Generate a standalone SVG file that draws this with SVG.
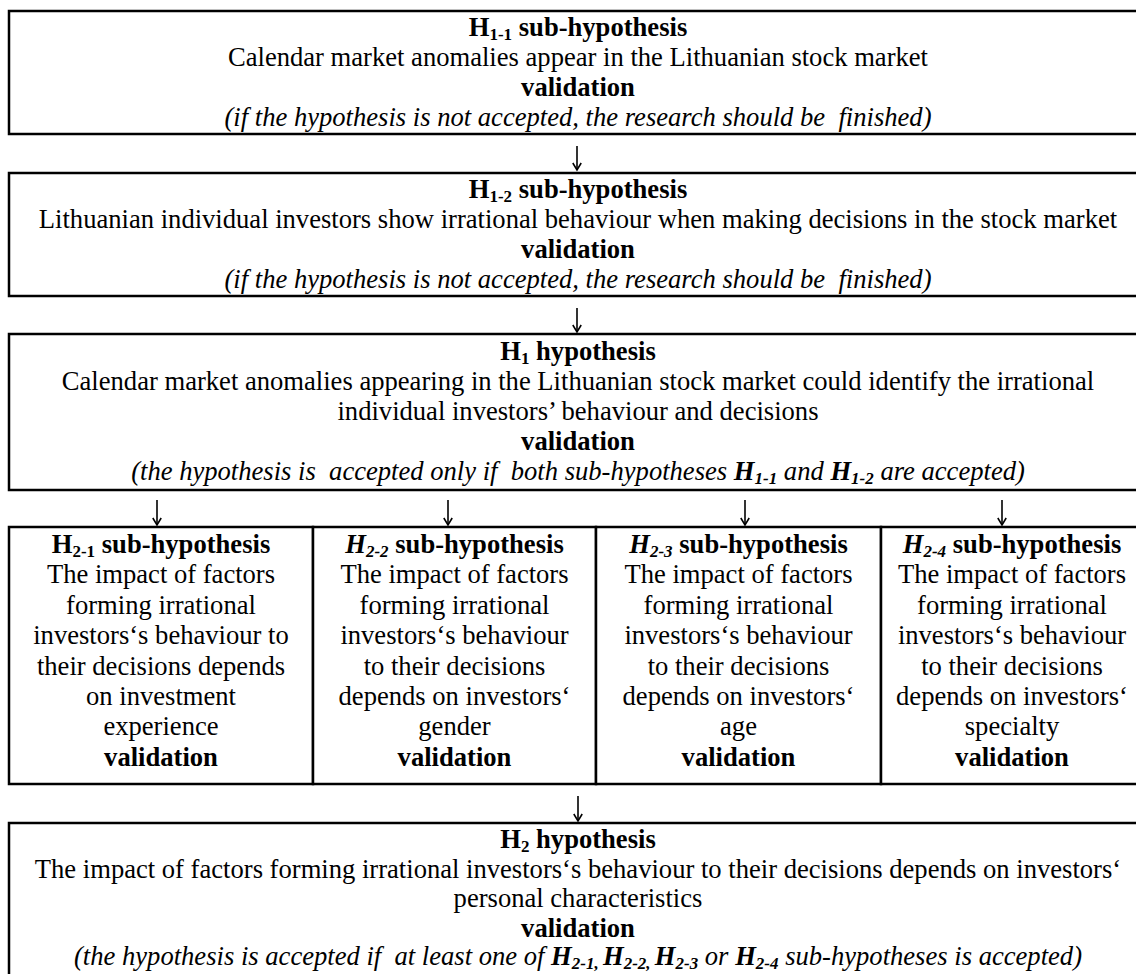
<svg xmlns="http://www.w3.org/2000/svg" width="1136" height="974" viewBox="0 0 1136 974">
<style>
.t{font-family:"Liberation Serif","Times New Roman","DejaVu Serif",serif;font-size:26.6px;text-anchor:middle;fill:#000}
.b{font-weight:bold}
.i{font-style:italic}
.s{font-size:17px}
.box{fill:#fff;stroke:#000;stroke-width:2.5}
.con{fill:none;stroke:#000;stroke-width:1.6}
</style>
<defs>
<marker id="ah" markerUnits="userSpaceOnUse" markerWidth="14" markerHeight="14" refX="0" refY="0" orient="auto" overflow="visible">
<path d="M-7,-4.2 L0,0 L-7,4.2" fill="none" stroke="#000" stroke-width="1.6"/>
</marker>
</defs>
<rect width="1136" height="974" fill="#fff"/>

<g id="box-h1-1">
<rect class="box" x="9" y="11" width="1134" height="123"/>
<text class="t b" x="578" y="36">H<tspan class="s" dy="4">1-1</tspan><tspan dy="-4"> sub-hypothesis</tspan></text>
<text class="t" x="578" y="66">Calendar market anomalies appear in the Lithuanian stock market</text>
<text class="t b" x="578" y="96">validation</text>
<text class="t i" x="578" y="126" xml:space="preserve">(if the hypothesis is not accepted, the research should be  finished)</text>
</g>

<g id="box-h1-2">
<rect class="box" x="9" y="173" width="1134" height="123"/>
<text class="t b" x="578" y="198">H<tspan class="s" dy="4">1-2</tspan><tspan dy="-4"> sub-hypothesis</tspan></text>
<text class="t" x="578" y="228">Lithuanian individual investors show irrational behaviour when making decisions in the stock market</text>
<text class="t b" x="578" y="258">validation</text>
<text class="t i" x="578" y="288" xml:space="preserve">(if the hypothesis is not accepted, the research should be  finished)</text>
</g>

<g id="box-h1">
<rect class="box" x="9" y="334" width="1134" height="156"/>
<text class="t b" x="578" y="360">H<tspan class="s" dy="4">1</tspan><tspan dy="-4"> hypothesis</tspan></text>
<text class="t" x="578" y="390">Calendar market anomalies appearing in the Lithuanian stock market could identify the irrational</text>
<text class="t" x="578" y="420">individual investors’ behaviour and decisions</text>
<text class="t b" x="578" y="450">validation</text>
<text class="t i" x="578" y="480" xml:space="preserve">(the hypothesis is  accepted only if  both sub-hypotheses <tspan class="b">H</tspan><tspan class="b s" dy="4">1-1</tspan><tspan dy="-4"> and </tspan><tspan class="b">H</tspan><tspan class="b s" dy="4">1-2</tspan><tspan dy="-4"> are accepted)</tspan></text>
</g>

<g id="box-h2-1">
<rect class="box" x="9" y="527" width="304" height="257"/>
<text class="t b" x="161" y="553">H<tspan class="s" dy="4">2-1</tspan><tspan dy="-4"> sub-hypothesis</tspan></text>
<text class="t" x="161" y="583.4">The impact of factors</text>
<text class="t" x="161" y="613.8">forming irrational</text>
<text class="t" x="161" y="644.2">investors‘s behaviour to</text>
<text class="t" x="161" y="674.6">their decisions depends</text>
<text class="t" x="161" y="705">on investment</text>
<text class="t" x="161" y="735.4">experience</text>
<text class="t b" x="161" y="765.8">validation</text>
</g>

<g id="box-h2-2">
<rect class="box" x="313" y="527" width="283" height="257"/>
<text class="t b" x="454.5" y="553"><tspan class="i">H</tspan><tspan class="i s" dy="4">2-2</tspan><tspan dy="-4"> sub-hypothesis</tspan></text>
<text class="t" x="454.5" y="583.4">The impact of factors</text>
<text class="t" x="454.5" y="613.8">forming irrational</text>
<text class="t" x="454.5" y="644.2">investors‘s behaviour</text>
<text class="t" x="454.5" y="674.6">to their decisions</text>
<text class="t" x="454.5" y="705">depends on investors‘</text>
<text class="t" x="454.5" y="735.4">gender</text>
<text class="t b" x="454.5" y="765.8">validation</text>
</g>

<g id="box-h2-3">
<rect class="box" x="596" y="527" width="285" height="257"/>
<text class="t b" x="738.5" y="553"><tspan class="i">H</tspan><tspan class="i s" dy="4">2-3</tspan><tspan dy="-4"> sub-hypothesis</tspan></text>
<text class="t" x="738.5" y="583.4">The impact of factors</text>
<text class="t" x="738.5" y="613.8">forming irrational</text>
<text class="t" x="738.5" y="644.2">investors‘s behaviour</text>
<text class="t" x="738.5" y="674.6">to their decisions</text>
<text class="t" x="738.5" y="705">depends on investors‘</text>
<text class="t" x="738.5" y="735.4">age</text>
<text class="t b" x="738.5" y="765.8">validation</text>
</g>

<g id="box-h2-4">
<rect class="box" x="881" y="527" width="262" height="257"/>
<text class="t b" x="1012" y="553"><tspan class="i">H</tspan><tspan class="i s" dy="4">2-4</tspan><tspan dy="-4"> sub-hypothesis</tspan></text>
<text class="t" x="1012" y="583.4">The impact of factors</text>
<text class="t" x="1012" y="613.8">forming irrational</text>
<text class="t" x="1012" y="644.2">investors‘s behaviour</text>
<text class="t" x="1012" y="674.6">to their decisions</text>
<text class="t" x="1012" y="705">depends on investors‘</text>
<text class="t" x="1012" y="735.4">specialty</text>
<text class="t b" x="1012" y="765.8">validation</text>
</g>

<g id="box-h2">
<rect class="box" x="9" y="823" width="1134" height="160"/>
<text class="t b" x="578" y="848">H<tspan class="s" dy="4">2</tspan><tspan dy="-4"> hypothesis</tspan></text>
<text class="t" x="578" y="877.5">The impact of factors forming irrational investors‘s behaviour to their decisions depends on investors‘</text>
<text class="t" x="578" y="907">personal characteristics</text>
<text class="t b" x="578" y="936.5">validation</text>
<text class="t i" x="578" y="965" xml:space="preserve">(the hypothesis is accepted if  at least one of <tspan class="b">H</tspan><tspan class="b s" dy="4">2-1, </tspan><tspan class="b" dy="-4">H</tspan><tspan class="b s" dy="4">2-2, </tspan><tspan class="b" dy="-4">H</tspan><tspan class="b s" dy="4">2-3</tspan><tspan dy="-4"> or </tspan><tspan class="b">H</tspan><tspan class="b s" dy="4">2-4</tspan><tspan dy="-4"> sub-hypotheses is accepted)</tspan></text>
</g>

<g id="connectors">
<path class="con" d="M577,146 V170" marker-end="url(#ah)"/>
<path class="con" d="M577,308 V332" marker-end="url(#ah)"/>
<path class="con" d="M157,500 V525" marker-end="url(#ah)"/>
<path class="con" d="M448,500 V525" marker-end="url(#ah)"/>
<path class="con" d="M745,500 V525" marker-end="url(#ah)"/>
<path class="con" d="M1002,500 V525" marker-end="url(#ah)"/>
<path class="con" d="M578,796 V821" marker-end="url(#ah)"/>
</g>
</svg>
